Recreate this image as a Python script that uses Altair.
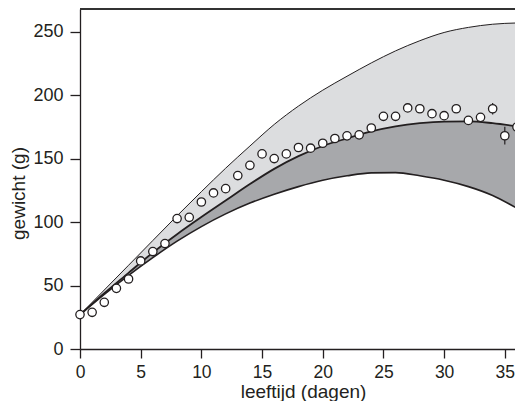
import altair as alt
import pandas as pd

# Observed mean weights per day
days = list(range(37))
weights = [27.1, 28.9, 36.8, 47.8, 55.2, 69.4, 76.8, 83.1, 102.8, 103.8,
           115.9, 123.0, 126.4, 136.7, 144.8, 153.8, 150.1, 153.8, 158.8, 158.3,
           162.2, 165.9, 168.0, 168.8, 174.2, 183.4, 183.4, 190.0, 189.4, 185.5,
           183.9, 189.4, 180.2, 182.6, 189.4, 168.1, 175.0]
errors = [0] * 33 + [3.0, 4.5, 7.0, 4.5]

# Model curves
curve_days = [0, 2, 4, 6, 8, 10, 12, 14, 16, 18, 20, 22, 24, 26, 28, 30, 32, 34, 36, 36.5]
upper = [27, 46.5, 66, 85.5, 105, 124, 142.5, 160, 177, 191.5, 204, 215, 225.5, 235,
         243, 249.5, 253.5, 256, 257, 257.1]
middle = [27, 44, 60, 76, 90.5, 104, 117, 130, 142, 152, 160, 166, 171.5, 175.5,
          178, 179.3, 179.5, 178, 175.5, 174.8]
lower = [27, 43, 58, 72, 85, 96.5, 106.5, 115, 122, 128, 133, 136.5, 138.8, 139,
         136.5, 133, 128, 121, 111, 108.5]

x_ticks = [0, 5, 10, 15, 20, 25, 30, 35]
y_ticks = [0, 50, 100, 150, 200, 250]

W, H = 435, 340

pts = pd.DataFrame({"day": days, "w": weights, "err": errors})
pts["lo"] = pts["w"] - pts["err"]
pts["hi"] = pts["w"] + pts["err"]
bars = pts[pts["err"] > 0]
curves = pd.DataFrame({"day": curve_days, "upper": upper, "middle": middle, "lower": lower})

FONT = "Liberation Sans"
INK = "#231f20"
xscale = alt.Scale(domain=[0, 35.84], nice=False, zero=False)
yscale = alt.Scale(domain=[0, 268], nice=False)

xax = alt.Axis(values=x_ticks, title="leeftijd (dagen)", grid=False, tickSize=9,
               labelPadding=5.5, labelFontSize=17.5, titleFontSize=19,
               labelFont=FONT, titleFont=FONT, labelColor=INK, titleColor=INK,
               titleFontWeight="normal", domainColor=INK, tickColor=INK,
               domainWidth=1.3, tickWidth=1.3, labelFlush=False,
               titleBaseline="alphabetic", titleY=48, titleX=223)
yax = alt.Axis(values=y_ticks, title="gewicht (g)", grid=False, tickSize=10,
               labelPadding=7, labelFontSize=18, titleFontSize=19,
               labelFont=FONT, titleFont=FONT, labelColor=INK, titleColor=INK,
               titleFontWeight="normal", domainColor=INK, tickColor=INK,
               domainWidth=1.3, tickWidth=1.3, labelFlush=False,
               titleBaseline="alphabetic", titleX=-56, titleY=184)


def X():
    return alt.X("day:Q", scale=xscale, axis=xax)


def Y(field):
    return alt.Y(field, scale=yscale, axis=yax)


base = alt.Chart(curves)

light = base.mark_area(interpolate="monotone", color="#dcdddf", clip=True).encode(
    x=X(), y=Y("upper:Q"), y2="middle:Q")
dark = base.mark_area(interpolate="monotone", color="#a7a8ab", clip=True).encode(
    x=X(), y=Y("middle:Q"), y2="lower:Q")
l_up = base.mark_line(interpolate="monotone", color=INK, strokeWidth=1, clip=True).encode(
    x=X(), y=Y("upper:Q"))
l_mid = base.mark_line(interpolate="monotone", color=INK, strokeWidth=1.8, clip=True).encode(
    x=X(), y=Y("middle:Q"))
l_low = base.mark_line(interpolate="monotone", color=INK, strokeWidth=1.6, clip=True).encode(
    x=X(), y=Y("lower:Q"))

ebar = alt.Chart(bars).mark_rule(color=INK, strokeWidth=1.2).encode(
    x=X(), y=Y("lo:Q"), y2="hi:Q")
dots = alt.Chart(pts).mark_point(shape="circle", filled=True, fill="white",
                                  stroke=INK, strokeWidth=1.3, size=70,
                                  opacity=1).encode(
    x=X(), y=Y("w:Q"))

top = alt.Chart(pts).mark_rule(color="#333333", strokeWidth=1.2).encode(
    x=alt.value(0), x2=alt.value(W), y=alt.value(0))

chart = alt.layer(light, dark, l_up, l_mid, l_low, ebar, dots, top).properties(
    width=W, height=H,
    autosize=alt.AutoSizeParams(type="none"),
    padding={"left": 72, "top": 1, "right": 0, "bottom": 52},
).configure_view(stroke=None)

chart.save("out.html", embed_options={"renderer": "svg", "actions": False})
